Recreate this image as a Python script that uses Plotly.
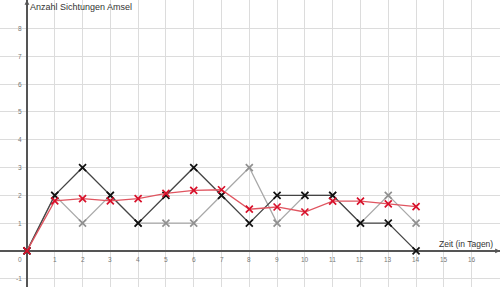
import plotly.graph_objects as go

days = list(range(0, 15))
black_counts = [0, 2, 3, 2, 1, 2, 3, 2, 1, 2, 2, 2, 1, 1, 0]
gray_counts = [0, 2, 1, 2, 1, 1, 1, 2, 3, 1, 2, 2, 1, 2, 1]
red_avg = [0, 1.8, 1.88, 1.8, 1.88, 2.07, 2.18, 2.2, 1.5, 1.58, 1.4, 1.79, 1.79, 1.69, 1.59]

x_ticks = list(range(1, 17))
y_ticks = [-1, 1, 2, 3, 4, 5, 6, 7, 8]
x_title = "Zeit (in Tagen)"
y_title = "Anzahl Sichtungen Amsel"

XR = [-0.97, 17.02]
YR = [-1.3, 9.03]

fig = go.Figure()

def add_series(y, line_color, marker_color):
    fig.add_trace(go.Scatter(
        x=days, y=y, mode="lines+markers",
        line=dict(color=line_color, width=1.3),
        marker=dict(symbol="x-thin", size=7, line=dict(color=marker_color, width=1.7)),
        showlegend=False, hoverinfo="skip"))

add_series(gray_counts, "#a8a8a8", "#909090")
add_series(black_counts, "#444444", "#111111")
add_series(red_avg, "#e05560", "#d8102a")

ann = []
for t in x_ticks:
    ann.append(dict(x=t, y=0, xref="x", yref="y", text=str(t), showarrow=False,
                    yanchor="top", yshift=-3, font=dict(size=6.5, color="#777")))
for t in y_ticks:
    ann.append(dict(x=0, y=t, xref="x", yref="y", text=str(t), showarrow=False,
                    xanchor="right", xshift=-3, font=dict(size=6.5, color="#777")))
ann.append(dict(x=0, y=0, xref="x", yref="y", text="0", showarrow=False,
                xanchor="right", yanchor="top", xshift=-3, yshift=-3,
                font=dict(size=6.5, color="#777")))
ann.append(dict(x=0, y=1, xref="x", yref="paper", text=y_title, showarrow=False,
                xanchor="left", yanchor="top", xshift=1, yshift=0,
                font=dict(size=9, color="#333")))
ann.append(dict(x=XR[1], y=0, xref="x", yref="y", text=x_title, showarrow=False,
                xanchor="right", yanchor="bottom", xshift=-5, yshift=0,
                font=dict(size=8.5, color="#333")))
# axis arrowheads
ann.append(dict(x=XR[1], y=0, ax=XR[1] - 0.3, ay=0, xref="x", yref="y", axref="x", ayref="y",
                showarrow=True, arrowhead=2, arrowsize=0.8, arrowwidth=1.2, arrowcolor="#555", text=""))
ann.append(dict(x=0, y=YR[1], ax=0, ay=YR[1] - 0.3, xref="x", yref="y", axref="x", ayref="y",
                showarrow=True, arrowhead=2, arrowsize=0.8, arrowwidth=1.2, arrowcolor="#555", text=""))

fig.update_layout(
    width=500, height=287, margin=dict(l=0, r=0, t=0, b=0),
    paper_bgcolor="white", plot_bgcolor="white",
    font=dict(family="Liberation Sans, Arial, sans-serif"),
    annotations=ann,
    xaxis=dict(range=XR, dtick=1, tick0=0, showgrid=True, gridcolor="#dcdcdc", gridwidth=1,
               zeroline=True, zerolinecolor="#555", zerolinewidth=1.5,
               showticklabels=False, ticks="", showline=False, fixedrange=True),
    yaxis=dict(range=YR, dtick=1, tick0=0, showgrid=True, gridcolor="#dcdcdc", gridwidth=1,
               zeroline=True, zerolinecolor="#555", zerolinewidth=1.5,
               showticklabels=False, ticks="", showline=False, fixedrange=True),
)

fig.write_html("out.html")
